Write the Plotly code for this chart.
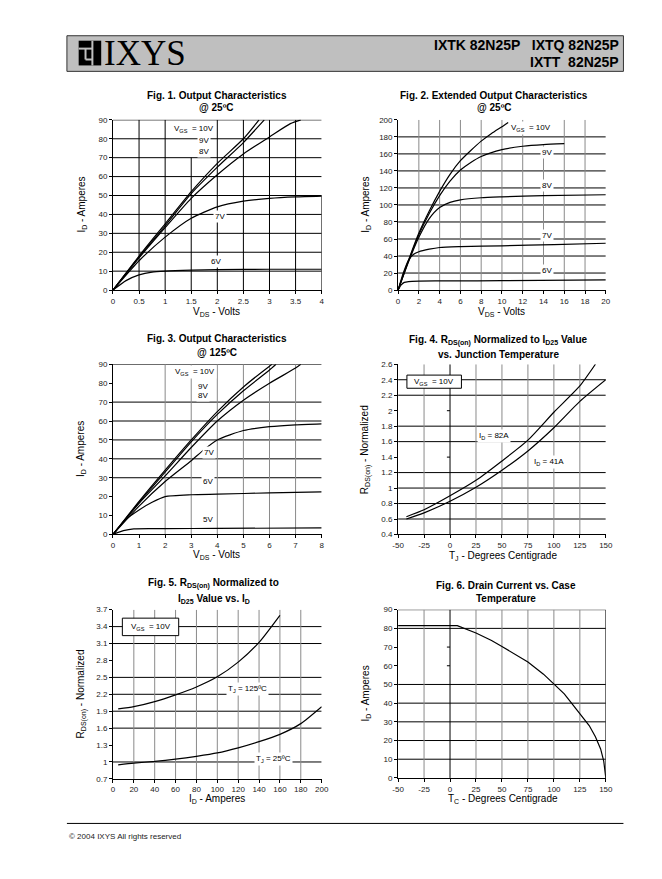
import plotly.graph_objects as go

# page is 662x879; the browser body keeps its default 8px margin,
# so the figure is drawn 8px in from the top-left corner and sized to fit.
OFF = 8
FW, FH = 644, 861

# ---------------- DATA ----------------
# Fig 1: Output characteristics @25C (VDS 0-4 V)
f1_10v_x = [0, 0.5, 1, 1.5, 2, 2.5, 2.8]
f1_10v_y = [0, 18, 35, 52, 67, 80, 90]
f1_9v_x = [0, 0.5, 1, 1.5, 2, 2.5, 2.9]
f1_9v_y = [0, 17.5, 34, 51, 65, 78, 90]
f1_8v_x = [0, 0.5, 1, 1.5, 2, 2.5, 3, 3.4, 3.6]
f1_8v_y = [0, 17, 33, 48.5, 61, 72, 81, 88, 90]
f1_7v_x = [0, 0.5, 1, 1.5, 2, 2.5, 3, 3.5, 4]
f1_7v_y = [0, 15.5, 28, 38, 44, 47, 48.5, 49.3, 49.7]
f1_6v_x = [0, 0.25, 0.5, 0.75, 1, 1.5, 2, 3, 4]
f1_6v_y = [0, 5, 8, 9.5, 10, 10.5, 10.8, 11, 11]

# Fig 2: Extended output characteristics @25C (VDS 0-20 V)
f2_10v_x = [0, 1, 2, 3, 4, 5, 6, 7, 8, 9, 10, 10.6]
f2_10v_y = [0, 35, 67, 93, 116, 136, 152, 164, 175, 184, 192, 197]
f2_9v_x = [0, 1, 2, 3, 4, 5, 6, 7, 8, 10, 12, 14, 16]
f2_9v_y = [0, 34, 65, 90, 111, 128, 141, 150, 157, 165, 169, 171, 172]
f2_8v_x = [0, 1, 2, 3, 4, 5, 6, 8, 10, 14, 20]
f2_8v_y = [0, 33, 62, 84, 97, 103, 106, 108.5, 109.5, 111, 112]
f2_7v_x = [0, 0.5, 1, 1.5, 2, 3, 4, 6, 10, 15, 20]
f2_7v_y = [0, 20, 35, 42, 45, 48, 50, 51, 52, 53.5, 55]
f2_6v_x = [0, 0.3, 0.6, 1, 2, 5, 10, 20]
f2_6v_y = [0, 6, 9, 10, 10.5, 10.8, 11, 12]

# Fig 3: Output characteristics @125C (VDS 0-8 V)
f3_10v_x = [0, 1, 2, 3, 4, 5, 6, 6.1]
f3_10v_y = [0, 17.5, 34, 50, 65, 78, 89, 90]
f3_9v_x = [0, 1, 2, 3, 4, 5, 6, 6.25]
f3_9v_y = [0, 17, 33, 49, 63.5, 76, 87, 90]
f3_8v_x = [0, 1, 2, 3, 4, 5, 6, 7, 7.2]
f3_8v_y = [0, 16.5, 31, 46, 60, 71, 80, 88, 90]
f3_7v_x = [0, 1, 2, 3, 3.5, 4, 5, 6, 7, 8]
f3_7v_y = [0, 15, 28, 39, 45, 50, 55, 57, 58, 58.5]
f3_6v_x = [0, 0.5, 1, 1.5, 2, 3, 4, 6, 8]
f3_6v_y = [0, 8, 13, 17, 20, 21, 21.3, 22, 22.5]
f3_5v_x = [0, 0.4, 0.8, 2, 4, 8]
f3_5v_y = [0, 2, 3, 3.1, 3.2, 3.5]

# Fig 4: RDS(on) normalized vs junction temperature
f4_82a_x = [-42, -25, 0, 25, 50, 75, 100, 125, 140]
f4_82a_y = [0.63, 0.72, 0.9, 1.1, 1.35, 1.62, 1.98, 2.32, 2.6]
f4_41a_x = [-42, -25, 0, 25, 50, 75, 100, 125, 150]
f4_41a_y = [0.6, 0.68, 0.83, 1.01, 1.23, 1.48, 1.78, 2.12, 2.4]

# Fig 5: RDS(on) normalized vs ID
f5_125_x = [5, 20, 40, 60, 80, 100, 120, 140, 160]
f5_125_y = [1.94, 1.98, 2.07, 2.19, 2.33, 2.51, 2.77, 3.12, 3.6]
f5_25_x = [5, 20, 40, 60, 80, 100, 120, 140, 160, 180, 200]
f5_25_y = [0.95, 0.98, 1.01, 1.05, 1.1, 1.16, 1.25, 1.36, 1.49, 1.68, 1.98]

# Fig 6: Drain current vs case temperature
f6_x = [-50, 7, 25, 40, 50, 75, 90, 100, 110, 117, 126, 134, 140, 145, 148, 150]
f6_y = [81.5, 81.5, 77.5, 73.5, 70.3, 62, 55.5, 50.5, 45, 40, 33.5, 28, 22, 15.5, 9, 0]

# Tick values / labels
f1_xt = [0, 0.5, 1, 1.5, 2, 2.5, 3, 3.5, 4]
f1_xl = ["0", "0.5", "1", "1.5", "2", "2.5", "3", "3.5", "4"]
f1_yt = [0, 10, 20, 30, 40, 50, 60, 70, 80, 90]
f2_xt = [0, 2, 4, 6, 8, 10, 12, 14, 16, 18, 20]
f2_yt = [0, 20, 40, 60, 80, 100, 120, 140, 160, 180, 200]
f3_xt = [0, 1, 2, 3, 4, 5, 6, 7, 8]
f3_yt = [0, 10, 20, 30, 40, 50, 60, 70, 80, 90]
f4_xt = [-50, -25, 0, 25, 50, 75, 100, 125, 150]
f4_yt = [0.4, 0.6, 0.8, 1.0, 1.2, 1.4, 1.6, 1.8, 2.0, 2.2, 2.4, 2.6]
f4_yl = ["0.4", "0.6", "0.8", "1", "1.2", "1.4", "1.6", "1.8", "2", "2.2", "2.4", "2.6"]
f5_xt = [0, 20, 40, 60, 80, 100, 120, 140, 160, 180, 200]
f5_yt = [0.7, 1.0, 1.3, 1.6, 1.9, 2.2, 2.5, 2.8, 3.1, 3.4, 3.7]
f5_yl = ["0.7", "1", "1.3", "1.6", "1.9", "2.2", "2.5", "2.8", "3.1", "3.4", "3.7"]
f6_xt = [-50, -25, 0, 25, 50, 75, 100, 125, 150]
f6_yt = [0, 10, 20, 30, 40, 50, 60, 70, 80, 90]

# ---------------- LAYOUT HELPERS ----------------
FONT = "Arial, Liberation Sans, Helvetica, sans-serif"


def px(x):
    return (x - OFF) / FW


def py(y):
    return 1 - (y - OFF) / FH


fig = go.Figure()
layout = dict(
    width=FW, height=FH, margin=dict(l=0, r=0, t=0, b=0),
    paper_bgcolor="white", plot_bgcolor="white", showlegend=False,
    font=dict(family=FONT, color="black"),
)
shapes = []
annotations = []

# panel pixel boxes in page pixels: (left, right, top, bottom)
panels = {
    1: (109, 322, 117, 289),
    2: (400, 612, 117, 289),
    3: (109, 322, 364, 536),
    4: (400, 612, 364, 536),
    5: (109, 322, 612, 783),
    6: (400, 612, 612, 782),
}
ranges = {
    1: ([0, 4], [0, 90]),
    2: ([0, 20], [0, 200]),
    3: ([0, 8], [0, 90]),
    4: ([-50, 150], [0.4, 2.6]),
    5: ([0, 200], [0.7, 3.7]),
    6: ([-50, 150], [0, 90]),
}
ticks = {
    1: (f1_xt, f1_xl, f1_yt, [str(v) for v in f1_yt]),
    2: (f2_xt, [str(v) for v in f2_xt], f2_yt, [str(v) for v in f2_yt]),
    3: (f3_xt, [str(v) for v in f3_xt], f3_yt, [str(v) for v in f3_yt]),
    4: (f4_xt, [str(v) for v in f4_xt], f4_yt, f4_yl),
    5: (f5_xt, [str(v) for v in f5_xt], f5_yt, f5_yl),
    6: (f6_xt, [str(v) for v in f6_xt], f6_yt, [str(v) for v in f6_yt]),
}

for k, (l, r, t, b) in panels.items():
    xs = "" if k == 1 else str(k)
    xr, yr = ranges[k]
    xt, xl, yt, yl = ticks[k]
    layout["xaxis" + xs] = dict(
        domain=[px(l), px(r)], range=xr, anchor="y" + xs,
        tickvals=xt, ticktext=xl, showgrid=False, zeroline=False,
        showline=True, linecolor="black", linewidth=1,
        ticks="outside", ticklen=3, tickcolor="black", tickwidth=1,
        tickfont=dict(size=8, color="#222", family=FONT), fixedrange=True,
    )
    layout["yaxis" + xs] = dict(
        domain=[py(b), py(t)], range=yr, anchor="x" + xs,
        tickvals=yt, ticktext=yl, showgrid=False, zeroline=False,
        showline=True, linecolor="black", linewidth=1,
        ticks="outside", ticklen=3, tickcolor="black", tickwidth=1,
        tickfont=dict(size=8, color="#222", family=FONT), fixedrange=True,
    )


def hgrid(k, vals, color="black", x0=None, x1=None):
    xs = "" if k == 1 else str(k)
    xr, _ = ranges[k]
    for v in vals:
        shapes.append(dict(type="line", xref="x" + xs, yref="y" + xs,
                           x0=xr[0] if x0 is None else x0,
                           x1=xr[1] if x1 is None else x1,
                           y0=v, y1=v, line=dict(color=color, width=1),
                           layer="below"))


def vgrid(k, vals, color="#8a8a8a", y0=None, y1=None):
    xs = "" if k == 1 else str(k)
    _, yr = ranges[k]
    for v in vals:
        shapes.append(dict(type="line", xref="x" + xs, yref="y" + xs,
                           x0=v, x1=v,
                           y0=yr[0] if y0 is None else y0,
                           y1=yr[1] if y1 is None else y1,
                           line=dict(color=color, width=1), layer="below"))


# gridlines
hgrid(1, [10, 20, 30, 40, 50, 60, 70, 80, 90])
vgrid(1, [0.5, 1, 2, 2.5, 3, 3.5], color="black")
vgrid(1, [1.5], color="black", y1=70)
vgrid(1, [4], color="black", y1=50)

hgrid(2, [20, 40, 60, 80, 100, 120, 140, 160, 180])
vgrid(2, [2, 4, 6, 8, 10, 12, 16, 18])
vgrid(2, [14], y0=20, y1=170)

hgrid(3, [30, 40, 50, 60, 70, 90])
vgrid(3, [2, 3, 4, 5, 6, 7])

hgrid(4, [0.6, 0.8, 1.0, 1.2, 1.6, 1.8, 2.2, 2.4])
vgrid(4, [-25, 25, 50, 75, 100, 125])
vgrid(4, [0], color="black")

hgrid(5, [1.0, 1.6, 1.9, 2.2, 2.5, 3.1, 3.4])
vgrid(5, [20, 40, 60, 80, 100, 120, 140, 160, 180])

hgrid(6, [10, 20, 30, 40, 50, 80, 90])
vgrid(6, [-25, 25, 50, 75, 100, 125])
vgrid(6, [0, 150], color="black")

# small tick marks at x=0 where gridlines are missing
for k, vals, dx in [(4, [1.4, 2.0], 3), (6, [60, 70], 3)]:
    xs = str(k)
    for v in vals:
        shapes.append(dict(type="line", xref="x" + xs, yref="y" + xs,
                           x0=-dx, x1=0, y0=v, y1=v,
                           line=dict(color="black", width=1), layer="below"))

# ---------------- TRACES ----------------
LINE = dict(color="black", width=1.2, shape="spline", smoothing=0.6)


def curve(k, x, y, shape="spline"):
    xs = "" if k == 1 else str(k)
    ln = dict(LINE)
    ln["shape"] = shape
    if shape != "spline":
        ln.pop("smoothing")
    fig.add_trace(go.Scatter(x=x, y=y, mode="lines", line=ln,
                             xaxis="x" + xs, yaxis="y" + xs,
                             hoverinfo="skip", cliponaxis=True))


curve(1, f1_10v_x, f1_10v_y)
curve(1, f1_9v_x, f1_9v_y)
curve(1, f1_8v_x, f1_8v_y)
curve(1, f1_7v_x, f1_7v_y)
curve(1, f1_6v_x, f1_6v_y)

curve(2, f2_10v_x, f2_10v_y)
curve(2, f2_9v_x, f2_9v_y)
curve(2, f2_8v_x, f2_8v_y)
curve(2, f2_7v_x, f2_7v_y)
curve(2, f2_6v_x, f2_6v_y)

curve(3, f3_10v_x, f3_10v_y)
curve(3, f3_9v_x, f3_9v_y)
curve(3, f3_8v_x, f3_8v_y)
curve(3, f3_7v_x, f3_7v_y)
curve(3, f3_6v_x, f3_6v_y)
curve(3, f3_5v_x, f3_5v_y)

curve(4, f4_82a_x, f4_82a_y)
curve(4, f4_41a_x, f4_41a_y)

curve(5, f5_125_x, f5_125_y)
curve(5, f5_25_x, f5_25_y)

curve(6, f6_x, f6_y, shape="linear")


# ---------------- TEXT ----------------
def label(k, x, y, text, size=8, bg="white", xanchor="center"):
    xs = "" if k == 1 else str(k)
    annotations.append(dict(xref="x" + xs, yref="y" + xs, x=x, y=y, text=text,
                            showarrow=False, bgcolor=bg, borderpad=1,
                            xanchor=xanchor, yanchor="middle",
                            font=dict(size=size, family=FONT, color="black")))


def ptext(x, y, text, size=10, bold=False, angle=0, xanchor="center",
          family=FONT, color="black"):
    t = "<b>" + text + "</b>" if bold else text
    annotations.append(dict(xref="paper", yref="paper", x=px(x), y=py(y),
                            text=t, showarrow=False, textangle=angle,
                            xanchor=xanchor, yanchor="middle",
                            font=dict(size=size, family=family, color=color)))


VGS = "V<sub>GS</sub>  = 10V"

# Fig 1 labels
label(1, 1.55, 85, VGS)
label(1, 1.75, 79, "9V")
label(1, 1.75, 73.5, "8V")
label(1, 2.05, 39, "7V")
label(1, 1.97, 15, "6V")
# Fig 2 labels
label(2, 12.8, 190, VGS)
label(2, 14.3, 162, "9V")
label(2, 14.3, 123, "8V")
label(2, 14.3, 64, "7V")
label(2, 14.3, 23, "6V")
# Fig 3 labels
label(3, 3.15, 86, VGS)
label(3, 3.45, 78, "9V")
label(3, 3.45, 73.5, "8V")
label(3, 3.7, 43.5, "7V")
label(3, 3.65, 28, "6V")
label(3, 3.65, 8, "5V")
# Fig 4 labels
shapes.append(dict(type="rect", xref="x4", yref="y4", x0=-41.5, x1=11,
                   y0=2.29, y1=2.46, line=dict(color="black", width=1),
                   fillcolor="white", layer="above"))
label(4, -15, 2.375, "V<sub>GS</sub>  = 10V", bg=None)
label(4, 42, 1.67, "I<sub>D</sub> = 82A")
label(4, 95, 1.34, "I<sub>D</sub> = 41A")
# Fig 5 labels
shapes.append(dict(type="rect", xref="x5", yref="y5", x0=9, x1=63,
                   y0=3.24, y1=3.55, line=dict(color="black", width=1),
                   fillcolor="white", layer="above"))
label(5, 36, 3.395, "V<sub>GS</sub>  = 10V", bg=None)
label(5, 129, 2.29, "T<sub>J</sub> = 125ºC")
label(5, 154, 1.06, "T<sub>J</sub> = 25ºC")

# Titles
ptext(215, 92, "Fig. 1. Output Characteristics", bold=True)
ptext(215, 105, "@ 25ºC", bold=True)
ptext(498, 92, "Fig. 2. Extended Output Characteristics", bold=True)
ptext(498, 105, "@ 25ºC", bold=True)
ptext(215, 338, "Fig. 3. Output Characteristics", bold=True)
ptext(215, 352, "@ 125ºC", bold=True)
ptext(502, 340, "Fig. 4. R<sub>DS(on)</sub> Normalized to I<sub>D25</sub> Value",
      bold=True)
ptext(502, 354, "vs. Junction Temperature", bold=True)
ptext(212, 586, "Fig. 5. R<sub>DS(on)</sub> Normalized to", bold=True)
ptext(212, 601, "I<sub>D25</sub> Value vs. I<sub>D</sub>", bold=True)
ptext(510, 588, "Fig. 6. Drain Current vs. Case", bold=True)
ptext(510, 601, "Temperature", bold=True)

# Axis titles
ptext(215, 311, "V<sub>DS</sub> - Volts")
ptext(77, 203, "I<sub>D</sub> - Amperes", angle=-90)
ptext(506, 311, "V<sub>DS</sub> - Volts")
ptext(367, 203, "I<sub>D</sub> - Amperes", angle=-90)
ptext(215, 557, "V<sub>DS</sub> - Volts")
ptext(77, 450, "I<sub>D</sub> - Amperes", angle=-90)
ptext(507, 558, "T<sub>J</sub> - Degrees Centigrade")
ptext(367, 450, "R<sub>DS(on)</sub> - Normalized", angle=-90)
ptext(215, 803, "I<sub>D</sub> - Amperes")
ptext(77, 697, "R<sub>DS(on)</sub> - Normalized", angle=-90)
ptext(507, 803, "T<sub>C</sub> - Degrees Centigrade")
ptext(367, 697, "I<sub>D</sub> - Amperes", angle=-90)

# Header
shapes.append(dict(type="rect", xref="paper", yref="paper",
                   x0=px(62), x1=px(630), y0=py(68), y1=py(32),
                   fillcolor="#bfbfbf", line=dict(color="#333", width=1),
                   layer="below"))
# logo icon
shapes.append(dict(type="rect", xref="paper", yref="paper",
                   x0=px(74), x1=px(97), y0=py(62), y1=py(37),
                   fillcolor="black", line=dict(width=0), layer="above"))
for (a, b, c, d) in [(74, 45, 88, 45), (81, 45, 81, 56), (81, 56, 88, 56),
                     (88, 37, 88, 62)]:
    shapes.append(dict(type="line", xref="paper", yref="paper",
                       x0=px(a), y0=py(b), x1=px(c), y1=py(d),
                       line=dict(color="#bfbfbf", width=2), layer="above"))
ptext(98, 50, "IXYS", size=35, xanchor="left",
      family="Liberation Serif, DejaVu Serif, serif")
ptext(628, 41, "IXTK 82N25P   IXTQ 82N25P", size=14, bold=True, xanchor="right")
ptext(628, 59, "IXTT  82N25P", size=14, bold=True, xanchor="right")

# Footer
shapes.append(dict(type="line", xref="paper", yref="paper",
                   x0=px(62), x1=px(630), y0=py(828), y1=py(828),
                   line=dict(color="black", width=1)))
ptext(62, 841, "© 2004 IXYS All rights reserved", size=8, xanchor="left",
      color="#222")

layout["shapes"] = shapes
layout["annotations"] = annotations
fig.update_layout(**layout)
fig.write_html("out.html", config={"displayModeBar": False})
